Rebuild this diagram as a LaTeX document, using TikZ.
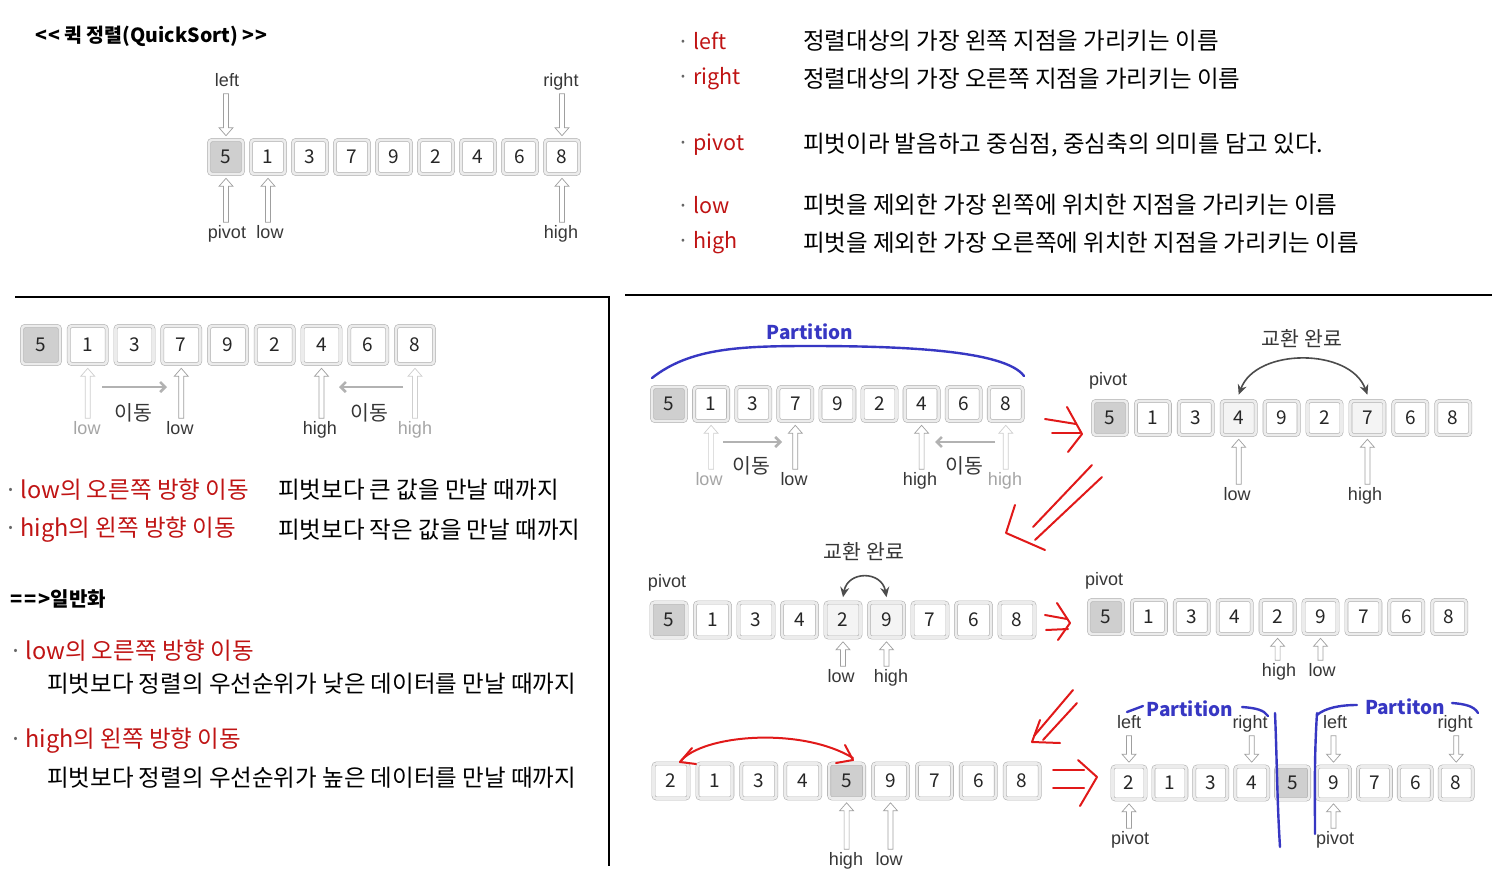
\documentclass[tikz,border=0pt]{standalone}
\usepackage{fontspec}
\setmainfont{Noto Sans CJK KR}
\newfontfamily\lat{Liberation Sans}
\usetikzlibrary{calc,arrows.meta}
\definecolor{redtxt}{RGB}{192,20,20}
\definecolor{penred}{RGB}{225,25,25}
\definecolor{bluepen}{RGB}{55,55,195}
\definecolor{lbl}{RGB}{55,55,55}
\definecolor{faded}{RGB}{165,165,165}
\colorlet{kp}{gray!38}
\colorlet{kn}{white}
\colorlet{ks}{gray!9}
\tikzset{
  key/.style={minimum size=#1, inner sep=0pt, rounded corners=3pt, draw=gray!60,
    double=gray!15, double distance=2.6pt, line width=0.6pt,
    font=\fontsize{19}{20}\selectfont, text=black!85},
  lab/.style={font=\lat\fontsize{18}{20}\selectfont, text=lbl, inner sep=1pt,
    text height=13pt, text depth=4pt},
  labf/.style={lab, text=faded},
  kmove/.style={font=\fontsize{20.5}{22}\selectfont, text=lbl, inner sep=1pt},
  kor/.style={anchor=west, inner sep=0pt, font=\fontsize{23.5}{26}\selectfont},
  korw/.style={kor, font=\fontsize{21.5}{24}\selectfont},
  harr/.style={draw=gray!75, fill=white, line width=0.7pt, line join=miter},
  fadedarr/.style={draw=gray!38},
  garr/.style={draw=gray!60, line width=2.6pt, -{Straight Barb[length=5pt,width=10pt]}},
  swaparr/.style={draw=black!70, line width=1.6pt,
    {Stealth[length=10pt,width=9pt]}-{Stealth[length=10pt,width=9pt]}},
  pen/.style={draw=penred, line width=2pt, line cap=round, line join=round},
  bpen/.style={draw=bluepen, line width=2.4pt, line cap=round, line join=round},
  btxt/.style={text=bluepen, font=\bfseries\fontsize{19}{21}\selectfont, inner sep=0pt},
  sep/.style={draw=black, line width=2.5pt},
}
% array of key boxes
\newcommand\keyrow[6]{%
  \foreach \v/\f [count=\i] in {#6}
    \node[key=#5, fill=\f] (#1\i) at ({#2+(\i-1)*#3},#4) {\v};}
% hollow up arrow: tip under box #2, tail above label #3
\newcommand\hup[3][]{%
  \draw[harr,#1] let \p1=($(#2.south)+(0pt,-4pt)$), \p2=($(#3.north)+(0pt,2pt)$) in
    (\x1,\y1) -- (\x1+7pt,\y1-8pt) -- (\x1+2.5pt,\y1-8pt) -- (\x1+2.5pt,\y2)
    -- (\x1-2.5pt,\y2) -- (\x1-2.5pt,\y1-8pt) -- (\x1-7pt,\y1-8pt) -- cycle;}
% hollow down arrow: tip above box #2, tail below label #3
\newcommand\hdown[3][]{%
  \draw[harr,#1] let \p1=($(#2.north)+(0pt,4pt)$), \p2=($(#3.south)+(0pt,-2pt)$) in
    (\x1,\y1) -- (\x1+7pt,\y1+8pt) -- (\x1+2.5pt,\y1+8pt) -- (\x1+2.5pt,\y2)
    -- (\x1-2.5pt,\y2) -- (\x1-2.5pt,\y1+8pt) -- (\x1-7pt,\y1+8pt) -- cycle;}
\begin{document}
\begin{tikzpicture}[x=1pt,y=-1pt]
\useasboundingbox (0,0) rectangle (1492,878);
\fill[white] (0,0) rectangle (1492,878);

% ---------- title ----------
\node[kor, font=\bfseries\fontsize{19.5}{22}\selectfont] (title) at (35,36) {{<}\hspace{1pt}{<} 퀵 정렬(QuickSort) {>}\hspace{1pt}{>}};

% ---------- top array ----------
\keyrow{t}{226}{42}{157}{34}{5/kp,1/kn,3/kn,7/kn,9/kn,2/kn,4/kn,6/kn,8/kn}
\node[lab] (tl) at (227,82) {left};
\node[lab] (tr) at (561,82) {right};
\node[lab] (tp) at (227,234) {pivot};
\node[lab] (tlo) at (270,234) {low};
\node[lab] (th) at (561,234) {high};
\hdown{t1}{tl}
\hdown{t9}{tr}
\hup{t1}{tp}
\hup{t2}{tlo}
\hup{t9}{th}

% ---------- definitions (top right) ----------
\node[korw] (d1) at (677,41) {\textcolor{black!60}{·}\hspace{4pt}\textcolor{redtxt}{left}};
\node[kor] (d1t) at (803,41) {정렬대상의 가장 왼쪽 지점을 가리키는 이름};
\node[korw] (d2) at (677,79) {\textcolor{black!60}{·}\hspace{4pt}\textcolor{redtxt}{right}};
\node[kor] (d2t) at (803,79) {정렬대상의 가장 오른쪽 지점을 가리키는 이름};
\node[korw] (d3) at (677,145) {\textcolor{black!60}{·}\hspace{4pt}\textcolor{redtxt}{pivot}};
\node[kor] (d3t) at (803,145) {피벗이라 발음하고 중심점, 중심축의 의미를 담고 있다.};
\node[korw] (d4) at (677,205) {\textcolor{black!60}{·}\hspace{4pt}\textcolor{redtxt}{low}};
\node[kor] (d4t) at (803,205) {피벗을 제외한 가장 왼쪽에 위치한 지점을 가리키는 이름};
\node[korw] (d5) at (677,243) {\textcolor{black!60}{·}\hspace{4pt}\textcolor{redtxt}{high}};
\node[kor] (d5t) at (803,243) {피벗을 제외한 가장 오른쪽에 위치한 지점을 가리키는 이름};

% ---------- separators ----------
\coordinate (s1) at (15,297);
\coordinate (s2) at (610,297);
\coordinate (s3) at (625,295);
\coordinate (s4) at (1492,295);
\coordinate (s5) at (609,297);
\coordinate (s6) at (609,866);
\draw[sep] (s1) -- (s2);
\draw[sep] (s3) -- (s4);
\draw[sep] (s5) -- (s6);

% ---------- bottom-left array ----------
\keyrow{l}{41}{46.75}{345}{38}{5/kp,1/kn,3/kn,7/kn,9/kn,2/kn,4/kn,6/kn,8/kn}
\node[labf] (llo1) at (87,430) {low};
\node[lab] (llo2) at (180,430) {low};
\node[lab] (lhi1) at (320,430) {high};
\node[labf] (lhi2) at (415,430) {high};
\node[kmove] (lmv1) at (133,413) {이동};
\node[kmove] (lmv2) at (369,413) {이동};
\hup[fadedarr]{l2}{llo1}
\hup{l4}{llo2}
\hup{l7}{lhi1}
\hup[fadedarr]{l9}{lhi2}
\coordinate (lm1) at (102,387);
\coordinate (lm2) at (167,387);
\coordinate (lm3) at (403,387);
\coordinate (lm4) at (339,387);
\draw[garr] (lm1) -- (lm2);
\draw[garr] (lm3) -- (lm4);

% ---------- bottom-left texts ----------
\node[kor] (r1) at (4,490) {\textcolor{black!60}{·}\hspace{3pt}\textcolor{redtxt}{low의 오른쪽 방향 이동}};
\node[kor] (r1t) at (278,490) {피벗보다 큰 값을 만날 때까지};
\node[kor] (r2) at (4,530) {\textcolor{black!60}{·}\hspace{3pt}\textcolor{redtxt}{high의 왼쪽 방향 이동}};
\node[kor] (r2t) at (278,530) {피벗보다 작은 값을 만날 때까지};
\node[kor, font=\bfseries\fontsize{20}{22}\selectfont] (gen) at (10,599) {{=}\hspace{2pt}{=}\hspace{2pt}{>}일반화};
\node[kor] (g1) at (9,651) {\textcolor{black!60}{·}\hspace{3pt}\textcolor{redtxt}{low의 오른쪽 방향 이동}};
\node[kor] (g1t) at (47,684) {피벗보다 정렬의 우선순위가 낮은 데이터를 만날 때까지};
\node[kor] (g2) at (9,741) {\textcolor{black!60}{·}\hspace{3pt}\textcolor{redtxt}{high의 왼쪽 방향 이동}};
\node[kor] (g2t) at (47,778) {피벗보다 정렬의 우선순위가 높은 데이터를 만날 때까지};

% ---------- R1 ----------
\keyrow{a}{669}{42.1}{404}{34}{5/kp,1/kn,3/kn,7/kn,9/kn,2/kn,4/kn,6/kn,8/kn}
\node[btxt] (apart) at (810,332) {Partition};
\draw[bpen] (652,378) .. controls (690,348) and (740,346) .. (810,346)
  .. controls (900,346) and (1005,350) .. (1024,376);
\node[labf] (alo1) at (709,481) {low};
\node[lab] (alo2) at (794,481) {low};
\node[lab] (ahi1) at (920,481) {high};
\node[labf] (ahi2) at (1005,481) {high};
\node[kmove] (amv1) at (751,466) {이동};
\node[kmove] (amv2) at (964,466) {이동};
\hup[fadedarr]{a2}{alo1}
\hup{a4}{alo2}
\hup{a7}{ahi1}
\hup[fadedarr]{a9}{ahi2}
\coordinate (am1) at (723,442);
\coordinate (am2) at (782,442);
\coordinate (am3) at (995,442);
\coordinate (am4) at (935,442);
\draw[garr] (am1) -- (am2);
\draw[garr] (am3) -- (am4);

% ---------- R2 ----------
\keyrow{b}{1110}{42.9}{418}{34}{5/kp,1/kn,3/kn,4/ks,9/kn,2/kn,7/ks,6/kn,8/kn}
\node[lab] (bp) at (1108,381) {pivot};
\node[kmove] (bx) at (1302,339) {교환 완료};
\draw[swaparr] ($(b4.north)+(0pt,6pt)$) to[out=70,in=110] ($(b7.north)+(0pt,6pt)$);
\node[lab] (blo) at (1237,496) {low};
\node[lab] (bhi) at (1365,496) {high};
\hup{b4}{blo}
\hup{b7}{bhi}

% ---------- R3 ----------
\keyrow{c}{669}{43.5}{620}{35}{5/kp,1/kn,3/kn,4/kn,2/ks,9/ks,7/kn,6/kn,8/kn}
\node[lab] (cp) at (667,583) {pivot};
\node[kmove] (cx) at (864,552) {교환 완료};
\draw[swaparr] ($(c5.north)+(0pt,5pt)$) to[out=80,in=100,looseness=1.6] ($(c6.north)+(0pt,5pt)$);
\node[lab] (clo) at (841,678) {low};
\node[lab] (chi) at (891,678) {high};
\hup{c5}{clo}
\hup{c6}{chi}

% ---------- R4 ----------
\keyrow{d}{1106}{42.9}{617}{34}{5/kp,1/kn,3/kn,4/kn,2/kn,9/kn,7/kn,6/kn,8/kn}
\node[lab] (dp) at (1104,581) {pivot};
\node[lab] (dhi) at (1279,672) {high};
\node[lab] (dlo) at (1322,672) {low};
\hup{d5}{dhi}
\hup{d6}{dlo}

% ---------- R5 ----------
\keyrow{e}{671}{43.9}{781}{35}{2/kn,1/kn,3/kn,4/kn,5/kp,9/kn,7/kn,6/kn,8/kn}
\node[lab] (ehi) at (846,861) {high};
\node[lab] (elo) at (889,861) {low};
\hup{e5}{ehi}
\hup{e6}{elo}
\draw[pen] (680,762) .. controls (700,735) and (800,726) .. (853,758);
\draw[pen] (692,748) -- (680,762) -- (696,764);
\draw[pen] (845,745) -- (853,760) -- (836,763);

% ---------- R6 ----------
\keyrow{f}{1129}{40.9}{783}{33}{2/kn,1/kn,3/kn,4/kn,5/kp,9/kn,7/kn,6/kn,8/kn}
\node[lab] (fl1) at (1129,724) {left};
\node[lab] (fr1) at (1250,724) {right};
\node[lab] (fl2) at (1335,724) {left};
\node[lab] (fr2) at (1455,724) {right};
\node[lab] (fp1) at (1130,840) {pivot};
\node[lab] (fp2) at (1335,840) {pivot};
\hdown{f1}{fl1}
\hdown{f4}{fr1}
\hdown{f6}{fl2}
\hdown{f9}{fr2}
\hup{f1}{fp1}
\hup{f6}{fp2}
\node[btxt] (fpart1) at (1190,709) {Partition};
\node[btxt] (fpart2) at (1405,707) {Partiton};
\draw[bpen] (1127,712) -- (1143,706);
\draw[bpen] (1242,707) .. controls (1256,708) and (1264,710) .. (1268,716);
\draw[bpen] (1275,713) .. controls (1277,760) and (1277,800) .. (1280,847);
\draw[bpen] (1317,713) .. controls (1314,760) and (1315,800) .. (1315,834);
\draw[bpen] (1317,715) .. controls (1325,708) and (1340,705) .. (1357,705);
\draw[bpen] (1452,703) .. controls (1465,704) and (1474,706) .. (1478,713);

% ---------- red hand-drawn arrows ----------
\draw[pen] (1045,419) -- (1076,424);
\draw[pen] (1052,433) -- (1080,433);
\draw[pen] (1067,407) -- (1082,434) -- (1068,452);

\draw[pen] (1092,465) -- (1033,527);
\draw[pen] (1102,477) -- (1035,540);
\draw[pen] (1015,505) -- (1006,533) -- (1045,550);

\draw[pen] (1045,615) -- (1067,619);
\draw[pen] (1046,630) -- (1068,629);
\draw[pen] (1057,603) -- (1070,623) -- (1058,640);

\draw[pen] (1073,690) -- (1034,736);
\draw[pen] (1077,703) -- (1043,740);
\draw[pen] (1040,720) -- (1032,742) -- (1060,743);

\draw[pen] (1053,770) -- (1084,770);
\draw[pen] (1053,788) -- (1084,788);
\draw[pen] (1078,760) -- (1097,777) -- (1080,806);
\end{tikzpicture}
\end{document}
